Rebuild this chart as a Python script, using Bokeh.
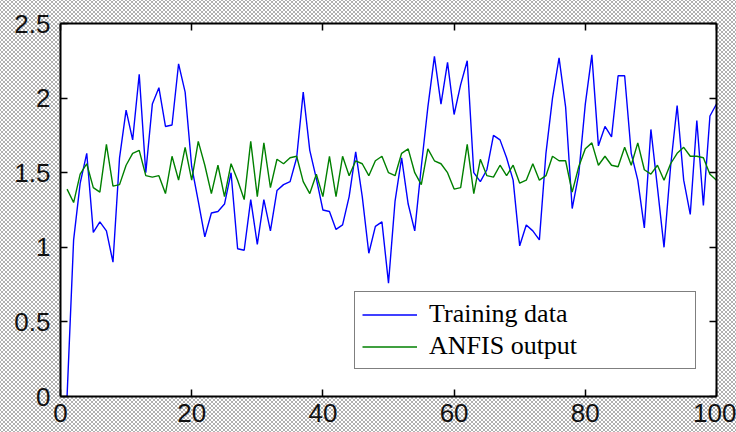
from bokeh.plotting import figure
from bokeh.models import Range1d, LinearAxis, FixedTicker, Legend, LegendItem
from bokeh.embed import file_html
from bokeh.resources import INLINE

# ---- data ----
x_index = list(range(1, 101))
training_data = [
    0.00, 1.05, 1.43, 1.63, 1.10, 1.17, 1.11, 0.90, 1.60, 1.92,
    1.72, 2.16, 1.50, 1.96, 2.07, 1.81, 1.82, 2.23, 2.04, 1.54,
    1.31, 1.07, 1.23, 1.24, 1.29, 1.50, 0.99, 0.98, 1.32, 1.02,
    1.32, 1.11, 1.38, 1.42, 1.44, 1.60, 2.04, 1.65, 1.46, 1.25,
    1.24, 1.12, 1.15, 1.34, 1.64, 1.34, 0.96, 1.14, 1.17, 0.76,
    1.31, 1.60, 1.29, 1.11, 1.54, 1.94, 2.28, 1.96, 2.24, 1.89,
    2.09, 2.25, 1.50, 1.44, 1.52, 1.75, 1.72, 1.60, 1.45, 1.01,
    1.15, 1.11, 1.05, 1.63, 2.00, 2.27, 1.94, 1.26, 1.49, 1.96,
    2.29, 1.68, 1.81, 1.74, 2.15, 2.15, 1.63, 1.45, 1.13, 1.79,
    1.40, 1.00, 1.54, 1.95, 1.45, 1.22, 1.85, 1.28, 1.88, 1.96,
]
anfis_output = [
    1.39, 1.30, 1.49, 1.56, 1.40, 1.37, 1.69, 1.41, 1.42, 1.55,
    1.63, 1.65, 1.48, 1.47, 1.48, 1.36, 1.61, 1.45, 1.67, 1.45,
    1.71, 1.55, 1.36, 1.55, 1.34, 1.56, 1.45, 1.32, 1.71, 1.34,
    1.70, 1.40, 1.59, 1.56, 1.60, 1.61, 1.44, 1.36, 1.49, 1.34,
    1.61, 1.34, 1.61, 1.48, 1.58, 1.56, 1.48, 1.58, 1.61, 1.50,
    1.48, 1.63, 1.66, 1.50, 1.42, 1.66, 1.58, 1.56, 1.50, 1.39,
    1.40, 1.69, 1.36, 1.59, 1.48, 1.47, 1.55, 1.48, 1.55, 1.43,
    1.45, 1.56, 1.45, 1.48, 1.61, 1.58, 1.58, 1.37, 1.54, 1.66,
    1.70, 1.55, 1.61, 1.55, 1.54, 1.67, 1.55, 1.70, 1.52, 1.49,
    1.55, 1.45, 1.56, 1.63, 1.67, 1.61, 1.61, 1.60, 1.49, 1.45,
]
x_ticks = [0, 20, 40, 60, 80, 100]
y_ticks = [0, 0.5, 1, 1.5, 2, 2.5]
legend_labels = ["Training data", "ANFIS output"]

TICK_FONT = "Liberation Sans"
TICK_SIZE = "26px"

p = figure(
    width=736, height=432,
    output_backend="svg", toolbar_location=None,
    x_range=Range1d(0, 100), y_range=Range1d(0, 2.5),
    x_axis_location=None, y_axis_location=None,
    min_border_left=60, min_border_right=20,
    min_border_top=23, min_border_bottom=36,
    background_fill_color="white",
    border_fill_color=None,
    outline_line_color=None,
    styles={
        "background-color": "#b0b0b0",
        "background-image": "radial-gradient(circle, #ffffff 0.9px, rgba(255,255,255,0) 1.5px), radial-gradient(circle, #ffffff 0.9px, rgba(255,255,255,0) 1.5px)",
        "background-size": "4px 4px",
        "background-position": "0 0, 2px 2px",
    },
)
p.xgrid.visible = False
p.ygrid.visible = False


def make_axis(ticks, show_labels, standoff):
    ax = LinearAxis(ticker=FixedTicker(ticks=ticks))
    ax.axis_line_color = "black"
    ax.axis_line_width = 2
    ax.major_tick_line_color = "black"
    ax.major_tick_line_width = 1.5
    ax.major_tick_in = 7
    ax.major_tick_out = 0
    ax.minor_tick_line_color = None
    ax.major_label_standoff = standoff
    if show_labels:
        ax.major_label_text_font = TICK_FONT
        ax.major_label_text_font_size = TICK_SIZE
        ax.major_label_text_color = "#111111"
    else:
        ax.major_label_text_font_size = "0px"
        ax.major_label_text_color = None
    return ax


p.add_layout(make_axis(x_ticks, True, 7), "below")
p.add_layout(make_axis(y_ticks, True, 10), "left")
p.add_layout(make_axis(x_ticks, False, 0), "above")
p.add_layout(make_axis(y_ticks, False, 0), "right")

r_train = p.line(x_index, training_data, line_color="#0000ff", line_width=1.4)
r_anfis = p.line(x_index, anfis_output, line_color="#008000", line_width=1.4)

legend = Legend(
    items=[LegendItem(label=legend_labels[0], renderers=[r_train]),
           LegendItem(label=legend_labels[1], renderers=[r_anfis])],
    location=(294, 27),
    border_line_color="black", border_line_width=1.5,
    background_fill_color="white", background_fill_alpha=1.0,
    padding=7, spacing=2, margin=0,
    glyph_width=55, glyph_height=29, label_standoff=12, label_width=259,
    label_text_font="Liberation Serif", label_text_font_size="26px",
    label_text_color="black",
)
p.add_layout(legend, "center")

open("out.html", "w").write(file_html(p, INLINE))
